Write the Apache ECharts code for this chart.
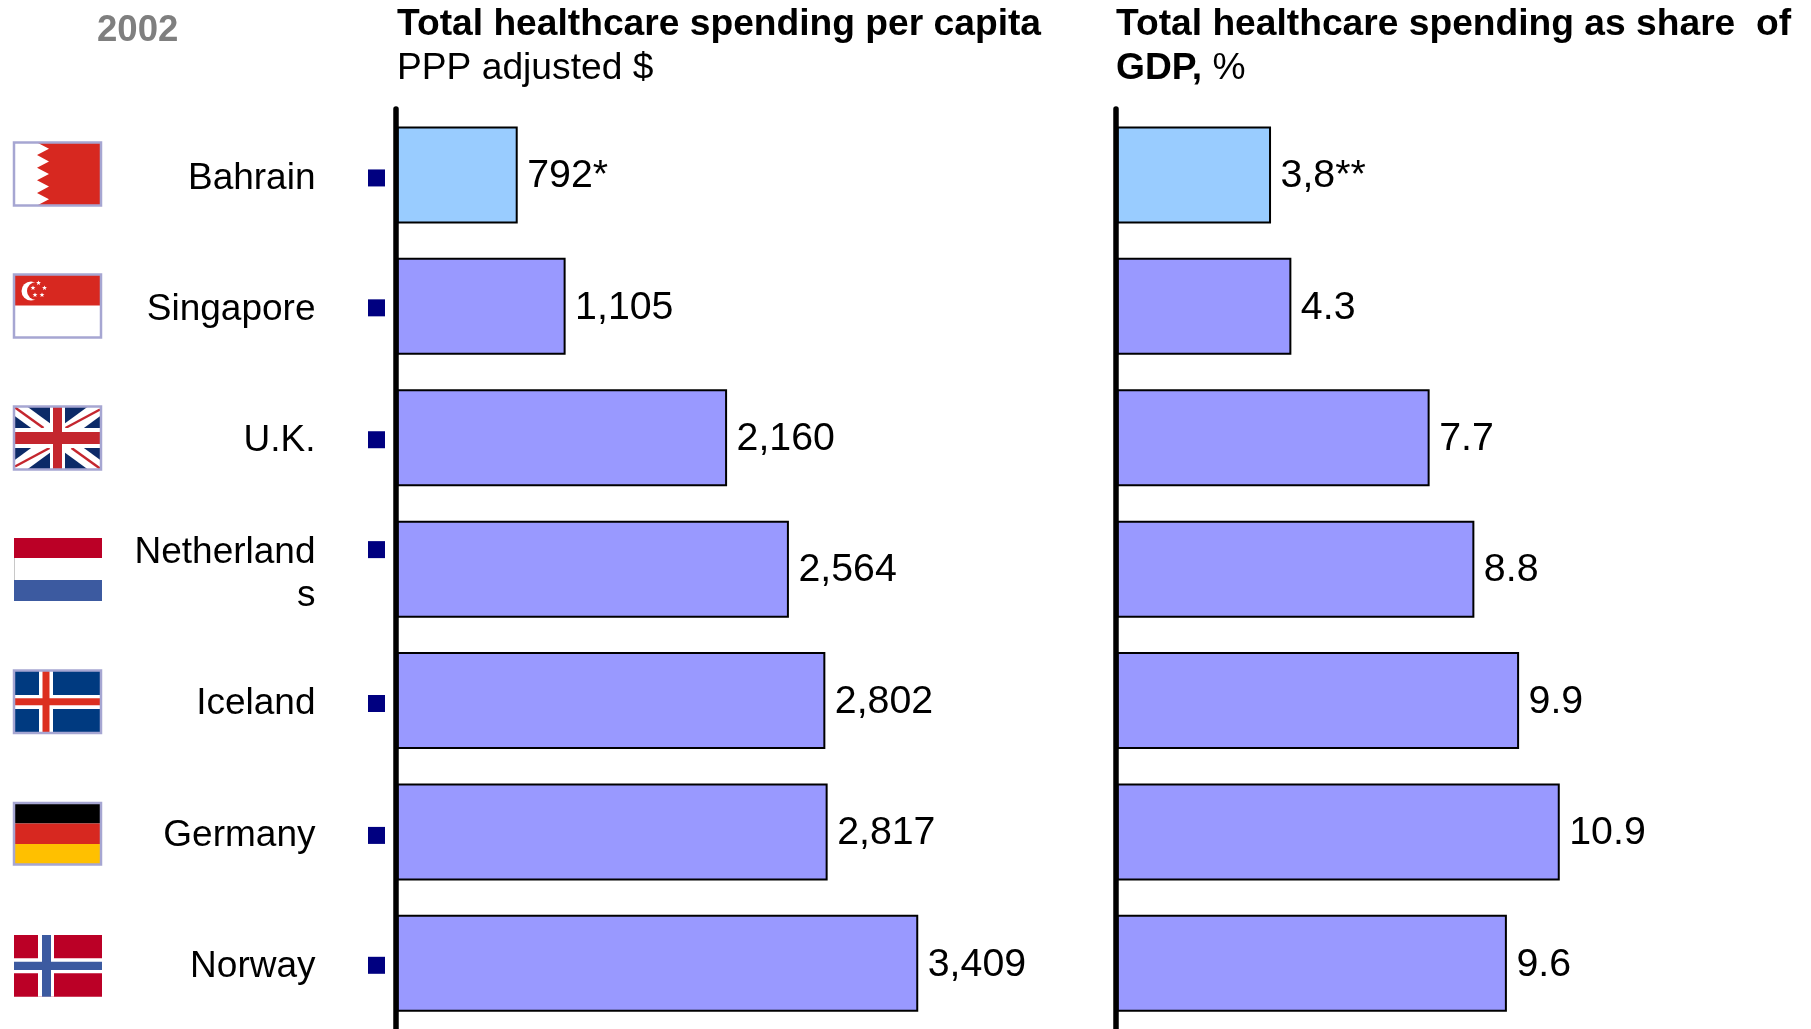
<!DOCTYPE html>
<html>
<head>
<meta charset="utf-8">
<title>Healthcare spending 2002</title>
<style>html,body{margin:0;padding:0;background:#fff}#chart{width:1811px;height:1029px}</style>
<script src="https://cdn.jsdelivr.net/npm/echarts@6/dist/echarts.min.js"></script>
</head>
<body>
<div id="chart"></div>
<script>
// Country rows, top to bottom
const countries = ['Bahrain', 'Singapore', 'U.K.', 'Netherland\ns', 'Iceland', 'Germany', 'Norway'];
// Healthcare spending per capita, PPP adjusted $
const spendingPerCapita = [792, 1105, 2160, 2564, 2802, 2817, 3409];
const spendingPerCapitaLabels = ['792*', '1,105', '2,160', '2,564', '2,802', '2,817', '3,409'];
// Healthcare spending as share of GDP, %
const shareOfGdp = [3.8, 4.3, 7.7, 8.8, 9.9, 10.9, 9.6];
const shareOfGdpLabels = ['3,8**', '4.3', '7.7', '8.8', '9.9', '10.9', '9.6'];
// The first row is highlighted in a lighter blue
const barColors = ['#99CCFF', '#9999FF', '#9999FF', '#9999FF', '#9999FF', '#9999FF', '#9999FF'];

const FONT = '"Liberation Sans", Arial, sans-serif';
const chart = echarts.init(document.getElementById('chart'), null, { renderer: 'canvas' });

const GRID_TOP = 109.25;
const GRID_H = 920.5;
const panels = [
  { left: 396.5, width: 612.2, max: 4000, values: spendingPerCapita, labels: spendingPerCapitaLabels },
  { left: 1116.5, width: 488, max: 12, values: shareOfGdp, labels: shareOfGdpLabels }
];

function barSeries(panel, i) {
  return {
    type: 'bar',
    xAxisIndex: i,
    yAxisIndex: i,
    barWidth: 97,
    silent: true,
    animation: false,
    data: panel.values.map((v, k) => ({
      value: v,
      itemStyle: { color: barColors[k], borderColor: '#000', borderWidth: 2 }
    })),
    label: {
      show: true,
      position: 'right',
      distance: 9.5,
      offset: [0, 1.5],
      color: '#000',
      fontFamily: FONT,
      fontSize: 39.3,
      formatter: p => panel.labels[p.dataIndex]
    }
  };
}

const titleRich = {
  b: { fontFamily: FONT, fontSize: 37.2, fontWeight: 'bold', color: '#000', lineHeight: 44 },
  n: { fontFamily: FONT, fontSize: 37.2, fontWeight: 'normal', color: '#000', lineHeight: 44 }
};

chart.setOption({
  animation: false,
  backgroundColor: '#fff',
  grid: panels.map(p => ({ left: p.left, width: p.width, top: GRID_TOP, height: GRID_H })),
  xAxis: panels.map((p, i) => ({
    type: 'value', gridIndex: i, min: 0, max: p.max, show: false
  })),
  yAxis: panels.map((p, i) => ({
    type: 'category',
    gridIndex: i,
    inverse: true,
    data: countries,
    axisLine: { show: false },
    axisTick: { show: false },
    axisLabel: {
      show: i === 0,
      margin: 81,
      align: 'right',
      interval: 0,
      // text lines carry some head room so names sit on the bar centres;
      // a wrapped second line gets extra room to open up the line spacing
      formatter: v => v.split('\n').map((s, n) => (n ? '{d|' : '{c|') + s + '}').join('\n'),
      rich: {
        c: {
          color: '#000', fontFamily: FONT, fontSize: 37,
          lineHeight: 39, padding: [7, 0, 0, 0], align: 'right'
        },
        d: {
          color: '#000', fontFamily: FONT, fontSize: 37,
          lineHeight: 39, padding: [14, 0, 0, 0], align: 'right'
        }
      }
    }
  })),
  title: [
    {
      left: 97, top: 12, padding: 0, text: '2002',
      textStyle: { color: '#7F7F7F', fontFamily: FONT, fontSize: 36.6, fontWeight: 'bold' }
    },
    {
      left: 397, top: 2.5, padding: 0,
      text: '{b|Total healthcare spending per capita}\n{n|PPP adjusted $}',
      textStyle: { rich: titleRich }
    },
    {
      left: 1116, top: 2.5, padding: 0,
      text: '{b|Total healthcare spending as share  of}\n{b|GDP,}{n| %}',
      textStyle: { rich: titleRich }
    }
  ],
  series: panels.map(barSeries)
});

// ---- decoration: axis rules, row bullets and flags ----
const g = [];
const rect = (x, y, w, h, fill, extra) => g.push({
  type: 'rect', silent: true, z: 5, shape: { x, y, width: w, height: h },
  style: Object.assign({ fill }, extra || {})
});
const poly = (points, fill) => g.push({
  type: 'polygon', silent: true, z: 5, shape: { points }, style: { fill }
});
const seg = (x1, y1, x2, y2, stroke, lineWidth) => g.push({
  type: 'line', silent: true, z: 5, shape: { x1, y1, x2, y2 }, style: { stroke, lineWidth }
});
const star = (cx, cy, r, fill) => {
  const pts = [];
  for (let i = 0; i < 10; i++) {
    const a = -Math.PI / 2 + i * Math.PI / 5, q = i % 2 ? r * 0.42 : r;
    pts.push([cx + q * Math.cos(a), cy + q * Math.sin(a)]);
  }
  poly(pts, fill);
};
const frame = (x, y, w, h) => rect(x, y, w, h, 'none', { stroke: '#A6A6D2', lineWidth: 2.5 });

// Vertical rules run past the plot area on both ends
panels.forEach((p, i) => {
  const x = chart.convertToPixel({ xAxisIndex: i }, 0) - 0.5;
  g.push({
    type: 'line', silent: true, z: 10,
    shape: { x1: x, y1: 109, x2: x, y2: 1040 },
    style: { stroke: '#000', lineWidth: 5.5, lineCap: 'round' }
  });
});

// Row bullets sit on the first text line of each label
const bulletOffsets = [3, 1.5, 2, -19.5, 3, 3.5, 2];
countries.forEach((c, k) => {
  const cy = chart.convertToPixel({ yAxisIndex: 0 }, c) + bulletOffsets[k];
  rect(368, cy - 8.5, 17, 17, '#000080');
});

const FX = 14, FW = 87;

// Bahrain
(function () {
  const y = 142.5, h = 63;
  rect(FX, y, FW, h, '#fff');
  const pts = [[FX + 23, y]];
  for (let i = 0; i < 5; i++) {
    pts.push([FX + 35, y + h * (i + 0.5) / 5], [FX + 23, y + h * (i + 1) / 5]);
  }
  pts.push([FX + FW, y + h], [FX + FW, y]);
  poly(pts, '#D72820');
  frame(FX, y, FW, h);
})();

// Singapore
(function () {
  const y = 274.5, h = 63;
  rect(FX, y, FW, h, '#fff');
  rect(FX, y, FW, 31, '#D72820');
  g.push({ type: 'circle', silent: true, z: 5, shape: { cx: 31, cy: 291, r: 9.5 }, style: { fill: '#fff' } });
  g.push({ type: 'circle', silent: true, z: 5, shape: { cx: 36, cy: 291, r: 9 }, style: { fill: '#D72820' } });
  star(38.5, 283, 2.6, '#fff');
  star(44.5, 288, 2.6, '#fff');
  star(42, 295, 2.6, '#fff');
  star(35, 295, 2.6, '#fff');
  star(33, 288, 2.6, '#fff');
  frame(FX, y, FW, h);
})();

// United Kingdom
(function () {
  const x0 = FX, y0 = 406.5, w = FW, h = 63, x1 = x0 + w, y1 = y0 + h;
  const mx = 57.5, my = 438;
  const a = 13, b = 9;
  rect(x0, y0, w, h, '#0C2A68');
  poly([[x0, y0], [x0 + a, y0], [x1, y1 - b], [x1, y1], [x1 - a, y1], [x0, y0 + b]], '#fff');
  poly([[x1, y0], [x1, y0 + b], [x0 + a, y1], [x0, y1], [x0, y1 - b], [x1 - a, y0]], '#fff');
  seg(x0 + 1, y0 + 1, mx - 14, my - 10, '#C4262E', 2.5);
  seg(x1 - 1, y0 + 3, mx + 8, my - 10, '#C4262E', 2.5);
  seg(x0 + 1, y1 - 3, mx - 8, my + 10, '#C4262E', 2.5);
  seg(x1 - 1, y1 - 1, mx + 14, my + 10, '#C4262E', 2.5);
  rect(mx - 7.5, y0, 15, h, '#fff');
  rect(x0, my - 10, w, 20, '#fff');
  rect(mx - 4.5, y0, 9, h, '#C4262E');
  rect(x0, my - 6, w, 12, '#C4262E');
  frame(x0, y0, w, h);
})();

// Netherlands
rect(14, 538, 88, 20, '#BB0026');
rect(14, 558, 88, 22, '#fff');
rect(14, 580, 88, 21, '#3C5AA0');
seg(14.5, 558, 14.5, 580, '#C8C8C8', 1);

// Iceland
(function () {
  const y = 670.5, h = 62.5;
  rect(FX, y, FW, h, '#003A80');
  rect(39, y, 14, h, '#fff');
  rect(FX, 695, FW, 14, '#fff');
  rect(42.5, y, 7, h, '#DC2F20');
  rect(FX, 698.3, FW, 7, '#DC2F20');
  frame(FX, y, FW, h);
})();

// Germany
(function () {
  const y = 803, h = 61.5;
  rect(FX, y, FW, 20.5, '#000');
  rect(FX, y + 20.5, FW, 20.5, '#D72820');
  rect(FX, y + 41, FW, 20.5, '#FFC000');
  frame(FX, y, FW, h);
})();

// Norway
rect(14, 935, 88, 61.7, '#BB0026');
rect(38, 935, 16, 61.7, '#fff');
rect(14, 958.3, 88, 15, '#fff');
rect(42, 935, 9, 61.7, '#3C5AA0');
rect(14, 961.7, 88, 8.3, '#3C5AA0');

chart.setOption({ graphic: { elements: g } });
</script>
</body>
</html>
